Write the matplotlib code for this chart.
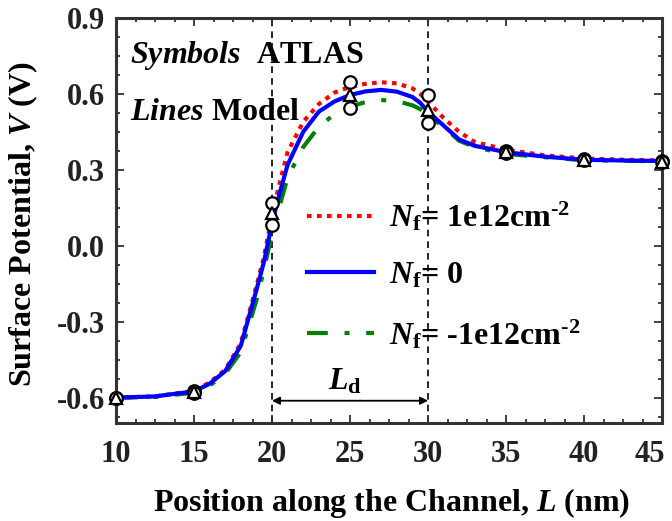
import matplotlib
matplotlib.use("Agg")
import matplotlib.pyplot as plt
import matplotlib.transforms as mtransforms
from matplotlib.ticker import AutoMinorLocator

# model curves (lines)
x_model = [10, 12.5, 15, 16, 17, 18, 19, 19.5, 20, 20.5, 21, 22, 23, 24, 25, 26, 27,
           28, 29, 29.5, 30, 31, 32, 33, 35, 37.5, 40, 42.5, 45]
v_pos = [-0.600, -0.595, -0.573, -0.540, -0.490, -0.385, -0.160, -0.040, 0.120, 0.250,
         0.370, 0.490, 0.560, 0.605, 0.628, 0.640, 0.646, 0.642, 0.622, 0.600, 0.570,
         0.505, 0.450, 0.410, 0.380, 0.357, 0.345, 0.340, 0.337]
v_zero = [-0.600, -0.595, -0.575, -0.545, -0.495, -0.395, -0.175, -0.060, 0.090, 0.210,
          0.320, 0.450, 0.530, 0.570, 0.596, 0.610, 0.616, 0.609, 0.588, 0.565, 0.530,
          0.475, 0.420, 0.395, 0.370, 0.352, 0.340, 0.337, 0.335]
v_neg = [-0.600, -0.597, -0.580, -0.553, -0.505, -0.420, -0.215, -0.090, 0.050, 0.160,
         0.270, 0.390, 0.470, 0.520, 0.550, 0.568, 0.576, 0.572, 0.555, 0.540, 0.515,
         0.470, 0.415, 0.390, 0.363, 0.350, 0.338, 0.336, 0.334]

# ATLAS symbols
x_sym = [10, 15, 20, 25, 30, 35, 40, 45]
sym_pos = [-0.600, -0.575, 0.170, 0.647, 0.596, 0.375, 0.342, 0.335]
sym_zero = [-0.600, -0.578, 0.130, 0.596, 0.537, 0.370, 0.340, 0.333]
sym_neg = [-0.600, -0.582, 0.083, 0.545, 0.485, 0.368, 0.339, 0.332]

x_ticks = [10, 15, 20, 25, 30, 35, 40, 45]
y_ticks = [-0.6, -0.3, 0.0, 0.3, 0.6, 0.9]
y_ticklabels = ["-0.6", "-0.3", "0.0", "0.3", "0.6", "0.9"]

ld_start, ld_end = 20, 30
labels = [r"$N_\mathrm{f}$= 1e12cm$^{\text{-2}}$",
          r"$N_\mathrm{f}$= 0",
          r"$N_\mathrm{f}$= -1e12cm$^{\text{-2}}$"]

plt.rcParams["font.family"] = "Liberation Serif"
plt.rcParams["font.weight"] = "bold"
plt.rcParams["axes.labelweight"] = "bold"
plt.rcParams["mathtext.fontset"] = "custom"
plt.rcParams["mathtext.rm"] = "Liberation Serif:bold"
plt.rcParams["mathtext.bf"] = "Liberation Serif:bold"
plt.rcParams["mathtext.it"] = "Liberation Serif:italic:bold"
plt.rcParams["axes.unicode_minus"] = False

FS = 23
fig = plt.figure(figsize=(6.72, 5.21), dpi=100)
ax = fig.add_axes([116 / 672, 1 - 423 / 521, 546 / 672, 405 / 521])

l1, = ax.plot(x_model, v_pos, color="#ff0000", lw=3, linestyle=(0, (1.1, 1.3)), zorder=3)
l2, = ax.plot(x_model, v_zero, color="#0000ff", lw=3, zorder=4)
l3, = ax.plot(x_model, v_neg, color="#008000", lw=3, linestyle=(0, (5, 4, 1.2, 4)), zorder=2)

mk = dict(linestyle="none", markerfacecolor="white", markeredgecolor="black",
          markeredgewidth=1.6, markersize=9, zorder=5, clip_on=False)
ax.plot(x_sym, sym_pos, marker="o", **mk)
ax.plot(x_sym, sym_neg, marker="o", **mk)
ax.plot(x_sym, sym_zero, marker="^", **mk)

for xv in (ld_start, ld_end):
    ax.axvline(xv, color="black", lw=1.2, linestyle=(0, (4, 3)), zorder=1)

ax.annotate("", xy=(ld_start, -0.612), xytext=(ld_end, -0.612),
            arrowprops=dict(arrowstyle="<|-|>", color="black", lw=1.3,
                            shrinkA=0, shrinkB=0, mutation_scale=11))
ax.text(24.7, -0.537, r"$L_\mathrm{d}$", fontsize=FS, ha="center", va="center")

ax.text(10.9, 0.722, r"$Symbols$  ATLAS", fontsize=FS, ha="left", va="baseline")
ax.text(10.9, 0.497, r"$Lines$ Model", fontsize=FS, ha="left", va="baseline")

ax.legend([l1, l2, l3], labels, loc="upper left", bbox_to_anchor=(0.35, 0.55),
          frameon=False, fontsize=FS, handlelength=2.1, handletextpad=0.45,
          labelspacing=0.85, borderpad=0, borderaxespad=0)

ax.set_xlim(10, 45)
ax.set_ylim(-0.7, 0.9)
ax.set_xticks(x_ticks)
ax.xaxis.set_minor_locator(AutoMinorLocator(4))
ax.set_yticks(y_ticks)
ax.set_yticklabels(y_ticklabels)
ax.yaxis.set_minor_locator(AutoMinorLocator(4))

ax.tick_params(which="both", direction="in", top=True, right=True, colors="#333333",
               labelcolor="#222222", width=1.3)
ax.tick_params(which="major", length=6, labelsize=FS - 1)
ax.tick_params(which="minor", length=3)
ax.tick_params(axis="x", which="major", pad=12)
ax.tick_params(axis="y", which="major", pad=8)
for sp in ax.spines.values():
    sp.set_linewidth(2.2)
    sp.set_color("#333333")

# last x tick label sits at the figure edge; nudge it inward like the original
last = ax.get_xticklabels()[-1]
last.set_transform(last.get_transform() +
                   mtransforms.ScaledTranslation(-12 / 100, 0, fig.dpi_scale_trans))

ax.set_xlabel("Position along the Channel, $L$ (nm)", fontsize=FS)
ax.set_ylabel("Surface Potential, $V$ (V)", fontsize=FS)
ax.xaxis.set_label_coords(0.505, -0.155)
ax.yaxis.set_label_coords(-0.139, 0.49)

fig.savefig("out.png", dpi=100)
